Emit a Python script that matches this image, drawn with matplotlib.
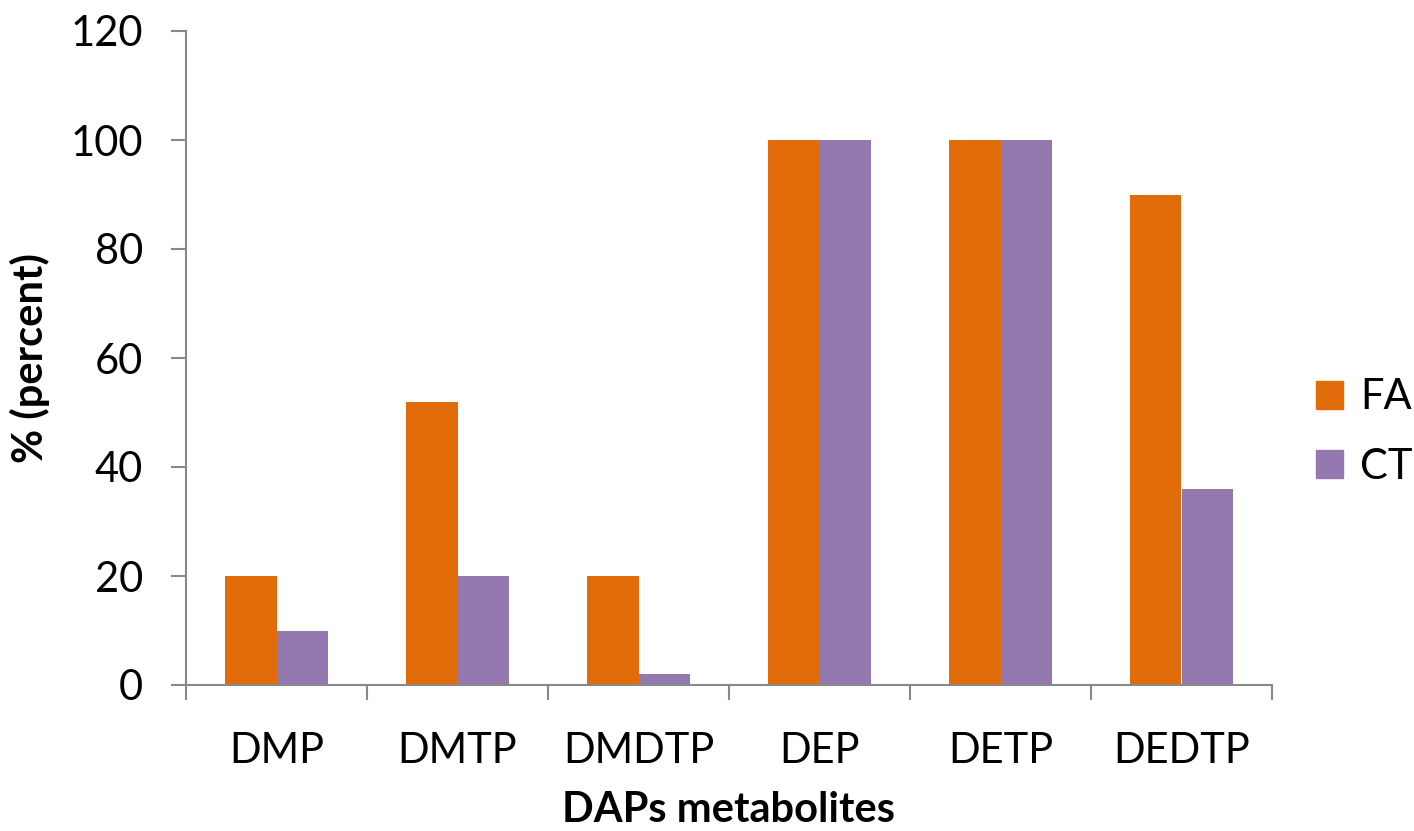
import matplotlib
matplotlib.use("Agg")
import matplotlib.pyplot as plt
import numpy as np
from matplotlib.patches import Patch

categories = ["DMP", "DMTP", "DMDTP", "DEP", "DETP", "DEDTP"]
fa_values = [20, 52, 20, 100, 100, 90]
ct_values = [10, 20, 2, 100, 100, 36]
series_names = ["FA", "CT"]
yticks = [0, 20, 40, 60, 80, 100, 120]

plt.rcParams['font.family'] = ['Lato', 'DejaVu Sans']
FS = 30
orange = "#E36C0A"
purple = "#9479B0"
gray = "#888888"

fig = plt.figure(figsize=(14.14, 8.31), dpi=100)
ax = fig.add_axes([186/1414, 1-685/831, (1272-186)/1414, (685-31)/831])

x = np.arange(len(categories))
w = 0.287
ax.bar(x - w/2, fa_values, width=w, color=orange, label=series_names[0])
ax.bar(x + w/2, ct_values, width=w, color=purple, label=series_names[1])

ax.set_xlim(-0.5, len(categories) - 0.5)
ax.set_ylim(0, 120)
ax.set_yticks(yticks)
ax.set_yticklabels([str(v) for v in yticks], fontsize=FS)
ax.set_xticks(x)
ax.set_xticklabels(categories, fontsize=FS)
ax.set_xticks(np.arange(len(categories) + 1) - 0.5, minor=True)
ax.tick_params(axis='x', which='major', length=0, pad=34)
ax.tick_params(axis='x', which='minor', length=11, width=1.5, color=gray, direction='out')
ax.tick_params(axis='y', which='major', length=11, width=1.5, color=gray, direction='out', pad=20)

for s in ['top', 'right']:
    ax.spines[s].set_visible(False)
for s in ['left', 'bottom']:
    ax.spines[s].set_color(gray)
    ax.spines[s].set_linewidth(1.5)

ax.set_ylabel("% (percent)", fontsize=FS, fontweight='bold', labelpad=15)
ax.set_xlabel("DAPs metabolites", fontsize=FS, fontweight='bold', labelpad=15)

handles = [Patch(color=orange), Patch(color=purple)]
leg = fig.legend(handles, series_names, loc='center left', bbox_to_anchor=(1316/1414, 1-432/831),
                 frameon=False, fontsize=FS, handlelength=0.65, handleheight=0.65,
                 labelspacing=0.75, handletextpad=0.4, borderpad=0, borderaxespad=0)

fig.savefig("out.png", dpi=100)
